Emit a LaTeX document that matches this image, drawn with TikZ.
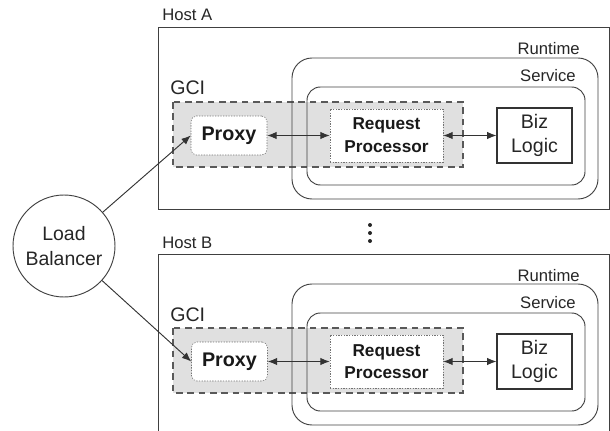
\documentclass[tikz,border=0pt]{standalone}
\usepackage{fontspec}
\setmainfont{Liberation Sans}
\usetikzlibrary{arrows.meta,positioning}

\begin{document}
\begin{tikzpicture}[x=0.75pt,y=0.75pt,yscale=-1,xscale=1,
    hostbox/.style={draw=black!75, line width=0.7pt},
    rtbox/.style={draw=black!75, line width=0.7pt, rounded corners=15pt},
    svcbox/.style={draw=black!75, line width=0.7pt, rounded corners=10pt},
    gcibox/.style={draw=black!65, fill=black!12, line width=1.1pt, dash pattern={on 5pt off 3.5pt}},
    lbl/.style={inner sep=0pt, text=black!85, font=\fontsize{12.5}{14}\selectfont},
    bigl/.style={inner sep=0pt, text=black!85, font=\fontsize{14.7}{18}\selectfont},
    proxybox/.style={draw=black!55, fill=white, dash pattern={on 1pt off 1pt}, rounded corners=4pt,
        minimum width=57pt, minimum height=29.25pt, inner sep=0pt, text=black!90,
        font=\fontsize{14.8}{18}\selectfont\bfseries},
    reqbox/.style={draw=black!55, fill=white, dash pattern={on 1pt off 1pt},
        minimum width=84.75pt, minimum height=39.75pt, inner sep=0pt, align=center, text=black!90,
        font=\fontsize{12.9}{17}\selectfont\bfseries},
    bizbox/.style={draw=black!80, fill=white, line width=0.8pt,
        minimum width=56.25pt, minimum height=41.25pt, inner sep=0pt, align=center, text=black!85,
        font=\fontsize{14.7}{18}\selectfont},
    conn/.style={draw=black!80, line width=0.7pt},
    tip/.tip={Latex[length=7pt,width=5.5pt]}
]
    \useasboundingbox (0,0) rectangle (610,431);

    % Host A
    \draw [hostbox] (158,27) rectangle (609,209);
    \node [lbl, anchor=base west] (hostAlbl) at (162,21) {Host A};
    \draw [gcibox] (173,102) rectangle (463,167);
    \draw [rtbox] (292,58) rectangle (598,199);
    \draw [svcbox] (307,87) rectangle (585,185);
    \node [lbl, anchor=base east] (rtAlbl) at (580,55) {Runtime};
    \node [lbl, anchor=base east] (svcAlbl) at (576,82) {Service};
    \node [bigl, anchor=base west] (gciAlbl) at (170,95) {GCI};
    \node [proxybox] (proxyA) at (229,135.5) {Proxy};
    \node [reqbox] (reqA) at (386.5,135.5) {Request\\Processor};
    \node [bizbox] (bizA) at (534.5,135.5) {Biz\\Logic};

    % Host B
    \draw [hostbox] (158,445) -- (158,254) -- (609,254) -- (609,445);
    \node [lbl, anchor=base west] (hostBlbl) at (162,248) {Host B};
    \draw [gcibox] (173,328) rectangle (463,393);
    \draw [rtbox] (292,284) rectangle (598,425);
    \draw [svcbox] (307,313) rectangle (585,411);
    \node [lbl, anchor=base east] (rtBlbl) at (580,281) {Runtime};
    \node [lbl, anchor=base east] (svcBlbl) at (576,308) {Service};
    \node [bigl, anchor=base west] (gciBlbl) at (170,321) {GCI};
    \node [proxybox] (proxyB) at (229.5,361.5) {Proxy};
    \node [reqbox] (reqB) at (386.5,361.5) {Request\\Processor};
    \node [bizbox] (bizB) at (534.5,361.5) {Biz\\Logic};

    % dots between hosts
    \fill [black!85] (370,225) circle (2) (370,233) circle (2) (370,241) circle (2);

    % Load balancer
    \node [circle, draw=black!75, line width=0.7pt, minimum size=76.5pt, inner sep=0pt, align=center,
        text=black!85, font=\fontsize{14.6}{19}\selectfont] (lb) at (64,246) {Load\\Balancer};

    % Connectors
    \draw [conn, -tip] (lb) -- (proxyA.west);
    \draw [conn, -tip] (lb) -- (proxyB.west);
    \draw [conn, tip-tip] (proxyA) -- (reqA);
    \draw [conn, tip-tip] (reqA) -- (bizA);
    \draw [conn, tip-tip] (proxyB) -- (reqB);
    \draw [conn, tip-tip] (reqB) -- (bizB);
\end{tikzpicture}
\end{document}
